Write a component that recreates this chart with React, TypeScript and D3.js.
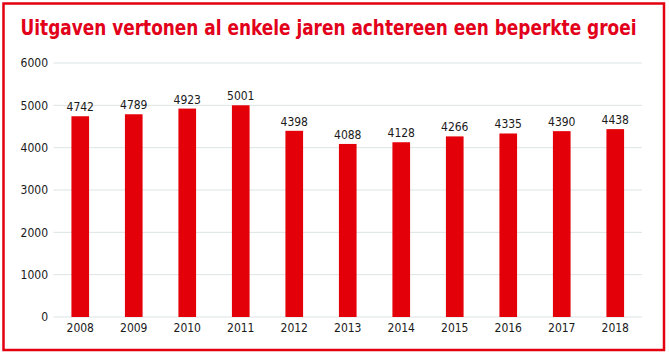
import React from "react";
import * as d3 from "d3";

const years = ["2008", "2009", "2010", "2011", "2012", "2013", "2014", "2015", "2016", "2017", "2018"];
const values = [4742, 4789, 4923, 5001, 4398, 4088, 4128, 4266, 4335, 4390, 4438];
const yTicks = [0, 1000, 2000, 3000, 4000, 5000, 6000];
const title = "Uitgaven vertonen al enkele jaren achtereen een beperkte groei";

const W = 669;
const H = 355;
const FONT = "'DejaVu Sans Condensed', 'DejaVu Sans', sans-serif";

export default function App() {
  const x = d3.scaleBand<string>().domain(years).range([53.5, 642]).paddingInner(0).paddingOuter(0);
  const y = d3.scaleLinear().domain([0, 6000]).range([317, 63]);
  const bw = x.bandwidth() * 0.33;
  const red = "#e30008";
  return (
    <svg width={W} height={H} style={{ position: "absolute", left: 0, top: 0 }}>
      <rect x={0} y={0} width={W} height={H} fill="#fff" />
      <rect x={3.5} y={3.5} width={660.5} height={346.5} fill="none" stroke="#e3000f" strokeWidth={2.5} />
      <text
        transform="translate(20.5,35) scale(0.856,1)"
        fill="#e2001a"
        fontFamily={FONT}
        fontWeight="bold"
        fontSize={22}
      >
        {title}
      </text>
      {yTicks.map((t) => (
        <g key={t}>
          <line x1={53.5} x2={642} y1={y(t)} y2={y(t)} stroke="#dde3e3" strokeWidth={1} />
          <text x={48} y={y(t)} dy="0.35em" textAnchor="end" fontFamily={FONT} fontSize={12} fill="#1a1a1a">
            {t}
          </text>
        </g>
      ))}
      {years.map((yr, i) => {
        const cx = (x(yr) as number) + x.bandwidth() / 2;
        return (
          <g key={yr}>
            <rect x={cx - bw / 2} y={y(values[i])} width={bw} height={y(0) - y(values[i])} fill={red} />
            <text x={cx} y={y(values[i]) - 5} textAnchor="middle" fontFamily={FONT} fontSize={12} fill="#1a1a1a">
              {values[i]}
            </text>
            <text x={cx} y={332} textAnchor="middle" fontFamily={FONT} fontSize={12} fill="#1a1a1a">
              {yr}
            </text>
          </g>
        );
      })}
    </svg>
  );
}
